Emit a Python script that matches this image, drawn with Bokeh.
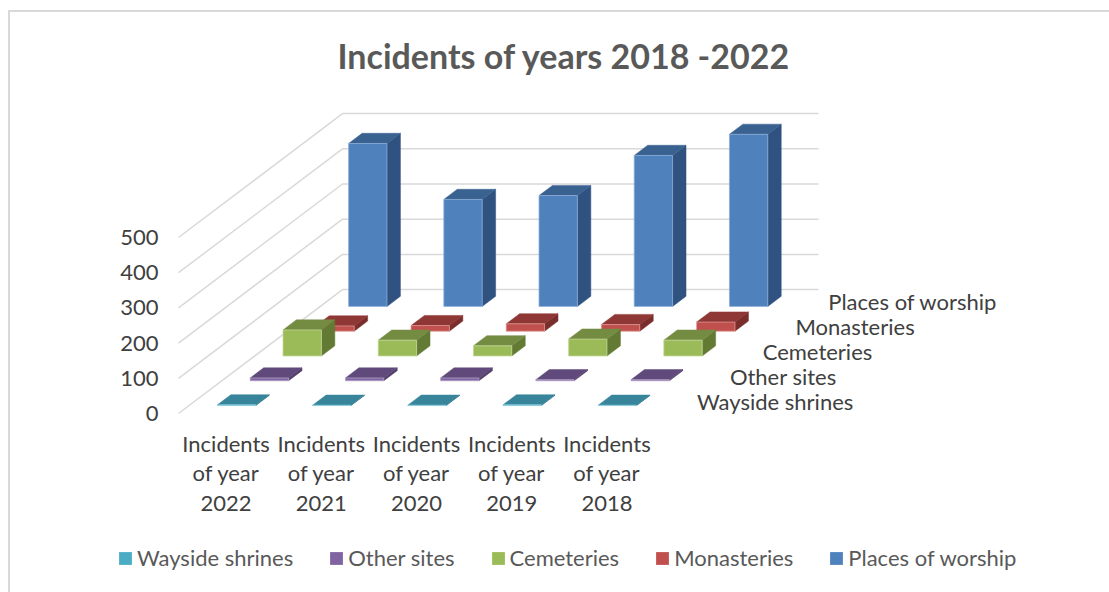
from bokeh.plotting import figure
from bokeh.layouts import column
from bokeh.models import (FixedTicker, Legend, LegendItem, Range1d, Title)
from bokeh.core.properties import value
from bokeh.embed import file_html
from bokeh.resources import INLINE

categories = ["Incidents\nof year\n2022", "Incidents\nof year\n2021", "Incidents\nof year\n2020",
              "Incidents\nof year\n2019", "Incidents\nof year\n2018"]
series_names = ["Wayside shrines", "Other sites", "Cemeteries", "Monasteries", "Places of worship"]
wayside_shrines = [2, 1, 1, 2, 1]
other_sites = [8, 8, 8, 3, 3]
cemeteries = [74, 45, 29, 48, 45]
monasteries = [15, 16, 21, 19, 26]
places_of_worship = [463, 304, 315, 429, 489]
y_ticks = [0, 100, 200, 300, 400, 500]

series_values = [wayside_shrines, other_sites, cemeteries, monasteries, places_of_worship]
front_colors = ["#4BACC6", "#8064A2", "#9BBB59", "#C0504D", "#4F81BD"]
top_colors = ["#38859B", "#604A7B", "#748C42", "#8E3735", "#3A6291"]
side_colors = ["#2F7185", "#523F69", "#637A35", "#7A2E2C", "#305280"]
edge_colors = ["#8FD0E2", "#B5A4CC", "#C5D99A", "#E09A98", "#8FAFD8"]

# oblique projection of the depth axis onto the category / value scales
PX_CAT, PX_VAL = 95.2, 0.352
DX = 32.8 / PX_CAT   # categories per series depth
DY = 70.4            # value units per series depth
BAR_W = 0.403
D0, D1 = 0.32, 0.73
AXIS_X, AXIS_Y = 178, 413   # pixel position of the floor's front-left corner
LEFT, TOP, BOTTOM = 117, 100, 426
W, H = 1109, 530
LEGEND_H = 62


def proj(c, d, v):
    return c + d * DX, v + d * DY


x_start = -0.5 - (AXIS_X - LEFT) / PX_CAT
p = figure(width=W, height=H, output_backend="svg", toolbar_location=None,
           x_range=Range1d(x_start, x_start + (W - LEFT) / PX_CAT),
           y_range=Range1d(-(BOTTOM - AXIS_Y) / PX_VAL, (AXIS_Y - TOP) / PX_VAL),
           min_border_left=LEFT, min_border_right=0, min_border_top=TOP,
           min_border_bottom=H - BOTTOM, outline_line_color=None,
           background_fill_color=None, border_fill_color=None)
p.grid.visible = False

# walls
n_cat, n_ser = len(categories), len(series_names)
xs, ys = [], []
for v in y_ticks:
    a, b, c = proj(-0.5, 0, v), proj(-0.5, n_ser, v), proj(n_cat - 0.5, n_ser, v)
    xs.append([a[0], b[0], c[0]])
    ys.append([a[1], b[1], c[1]])
p.multi_line(xs, ys, line_color="#D9D9D9", line_width=1.5)

# bars, deepest series first
for s in range(n_ser - 1, -1, -1):
    fx, fy, tx, ty, sx, sy = [], [], [], [], [], []
    for i, v in enumerate(series_values[s]):
        l, r = i - BAR_W / 2, i + BAR_W / 2
        d0, d1 = s + D0, s + D1
        q = [proj(l, d0, 0), proj(r, d0, 0), proj(r, d0, v), proj(l, d0, v)]
        fx.append([k[0] for k in q]); fy.append([k[1] for k in q])
        q = [proj(l, d0, v), proj(r, d0, v), proj(r, d1, v), proj(l, d1, v)]
        tx.append([k[0] for k in q]); ty.append([k[1] for k in q])
        q = [proj(r, d0, 0), proj(r, d1, 0), proj(r, d1, v), proj(r, d0, v)]
        sx.append([k[0] for k in q]); sy.append([k[1] for k in q])
    p.patches(sx, sy, fill_color=side_colors[s], line_color=side_colors[s], line_width=0.5)
    p.patches(tx, ty, fill_color=top_colors[s], line_color=top_colors[s], line_width=0.5)
    p.patches(fx, fy, fill_color=front_colors[s], line_color=edge_colors[s], line_width=0.75)

# depth-axis labels
lx = [n_cat - 0.5 + (s + 0.5) * DX + 0.275 for s in range(n_ser)]
ly = [(s + 0.5) * DY for s in range(n_ser)]
p.text(lx, ly, text=series_names, text_font=value("Lato"), text_font_size="22px",
       text_color="#404040", text_align="left", text_baseline="middle")

# axes
p.yaxis.ticker = FixedTicker(ticks=y_ticks)
p.yaxis.fixed_location = -0.5
p.yaxis.axis_line_color = None
p.yaxis.major_tick_line_color = None
p.yaxis.minor_tick_line_color = None
p.yaxis.major_tick_out = 0
p.yaxis.major_label_standoff = 20
p.yaxis.major_label_text_font = "Lato"
p.yaxis.major_label_text_font_size = "22px"
p.yaxis.major_label_text_color = "#404040"

p.xaxis.ticker = FixedTicker(ticks=list(range(n_cat)))
p.xaxis.major_label_overrides = {i: c for i, c in enumerate(categories)}
p.xaxis.axis_line_color = None
p.xaxis.major_tick_line_color = None
p.xaxis.minor_tick_line_color = None
p.xaxis.major_tick_out = 0
p.xaxis.major_label_standoff = 3
p.xaxis.major_label_text_font = "Lato"
p.xaxis.major_label_text_font_size = "22px"
p.xaxis.major_label_text_color = "#404040"
p.xaxis.major_label_text_line_height = 1.1

# title
p.title = Title(text="Incidents of years 2018 -2022", align="left", offset=337 - LEFT,
                text_font="Lato", text_font_size="34px", text_font_style="bold",
                text_color="#595959", standoff=50)

# legend strip underneath the chart; its swatches sit outside the strip's own ranges
strip = figure(width=W, height=LEGEND_H, output_backend="svg", toolbar_location=None,
               x_range=Range1d(0, 1), y_range=Range1d(0, 1), x_axis_type=None, y_axis_type=None,
               min_border=0, outline_line_color=None,
               background_fill_color=None, border_fill_color=None)
strip.grid.visible = False
swatches = [strip.patches([[2, 3, 3]], [[2, 2, 3]], fill_color=front_colors[s], line_color=None)
            for s in range(n_ser)]
legend = Legend(items=[LegendItem(label=series_names[s], renderers=[swatches[s]]) for s in range(n_ser)],
                orientation="horizontal", location=(0, 21),
                border_line_color=None, background_fill_alpha=0,
                glyph_width=16, glyph_height=16, label_standoff=4, spacing=35,
                padding=0, margin=0,
                label_text_font="Lato", label_text_font_size="22px", label_text_color="#595959")
strip.add_layout(legend, "center")

# outer chart border, drawn behind the transparent canvases
line = "linear-gradient(#D9D9D9,#D9D9D9)"
page = column(p, strip, spacing=0,
              styles={"background": f"{line} 8px 10px/2px 100% no-repeat, {line} 8px 10px/100% 2px no-repeat"})

open("out.html", "w").write(file_html(page, INLINE))
